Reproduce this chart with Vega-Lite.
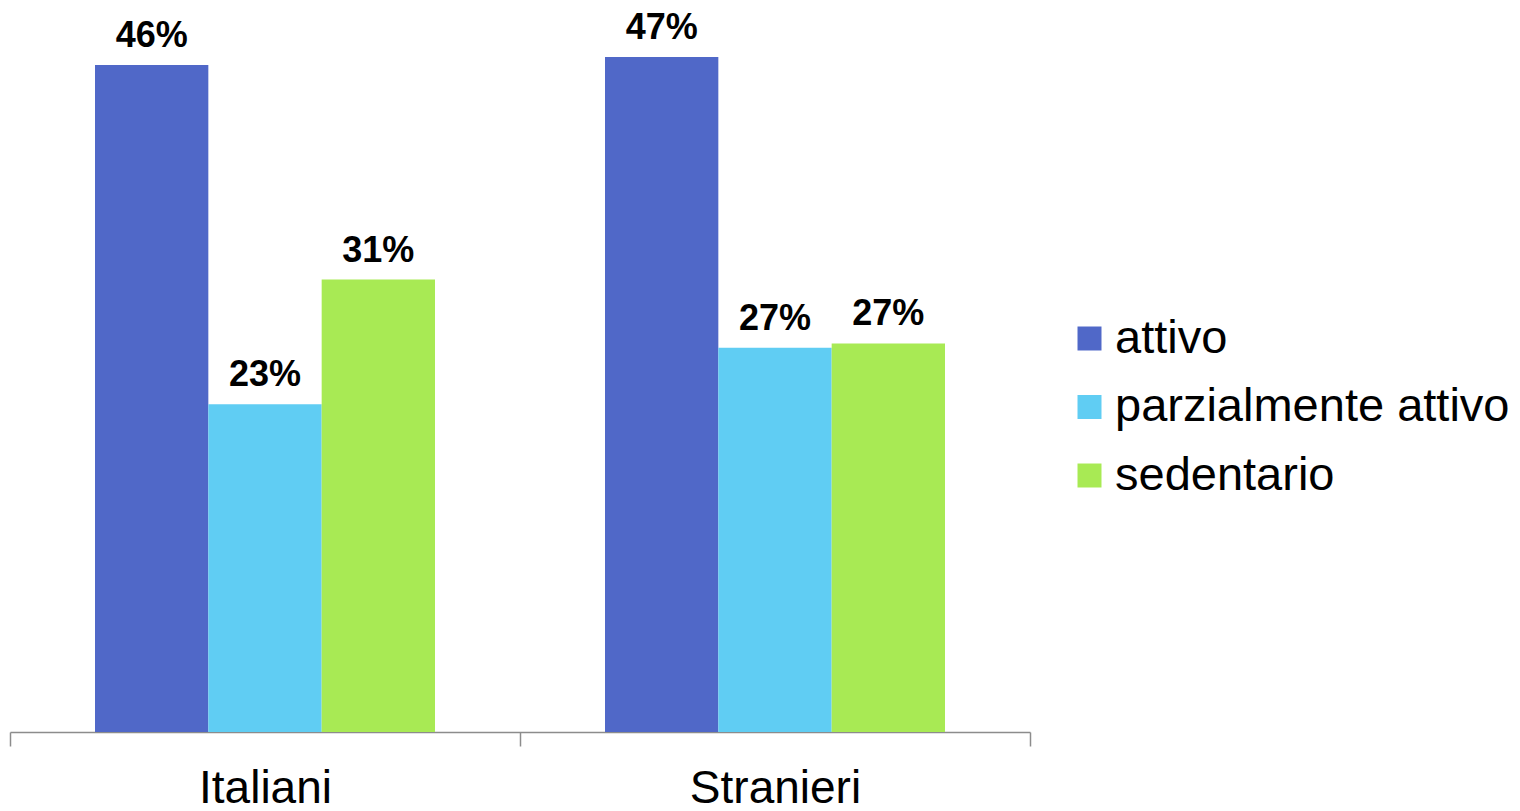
{
  "$schema": "https://vega.github.io/schema/vega-lite/v6.json",
  "width": 1020,
  "height": 725,
  "autosize": {"type": "none"},
  "padding": {"left": 10, "top": 7, "right": 490, "bottom": 79},
  "background": "white",
  "config": {"view": {"stroke": null}, "font": "Liberation Sans"},
  "data": {"values": [
    {"gruppo": "Italiani", "livello": "attivo", "valore": 0.460},
    {"gruppo": "Italiani", "livello": "parzialmente attivo", "valore": 0.226},
    {"gruppo": "Italiani", "livello": "sedentario", "valore": 0.312},
    {"gruppo": "Stranieri", "livello": "attivo", "valore": 0.4655},
    {"gruppo": "Stranieri", "livello": "parzialmente attivo", "valore": 0.265},
    {"gruppo": "Stranieri", "livello": "sedentario", "valore": 0.268}
  ]},
  "encoding": {
    "x": {"field": "gruppo", "type": "nominal", "title": null,
      "scale": {"paddingInner": 0, "paddingOuter": 0},
      "axis": {"labelAngle": 0, "labelFontSize": 46, "labelColor": "black", "labelFont": "Liberation Sans",
        "domainColor": "#8c8c8c", "tickColor": "#8c8c8c", "tickSize": 14, "tickBand": "extent",
        "labelPadding": 20, "domainWidth": 1.5, "tickWidth": 1.5}},
    "xOffset": {"field": "livello", "type": "nominal", "scale": {"paddingInner": 0, "paddingOuter": 0.75}},
    "y": {"field": "valore", "type": "quantitative", "scale": {"domain": [0, 0.5]}, "axis": null}
  },
  "layer": [
    {"mark": {"type": "bar"},
     "encoding": {"color": {"field": "livello", "type": "nominal", "title": null,
        "scale": {"domain": ["attivo", "parzialmente attivo", "sedentario"], "range": ["#5068C8", "#60CDF3", "#A8EA54"]},
        "legend": {"orient": "none", "legendX": 1056, "legendY": 308, "symbolType": "square", "symbolSize": 576,
          "symbolStrokeWidth": 0, "labelFontSize": 47, "labelColor": "black", "labelOffset": 2, "rowPadding": 20.5,
          "labelLimit": 0, "labelFont": "Liberation Sans"}}}},
    {"mark": {"type": "text", "fontSize": 36, "fontWeight": "bold", "baseline": "alphabetic", "dy": -18, "color": "black"},
     "encoding": {"text": {"field": "valore", "type": "quantitative", "format": ".0%"}}}
  ]
}
